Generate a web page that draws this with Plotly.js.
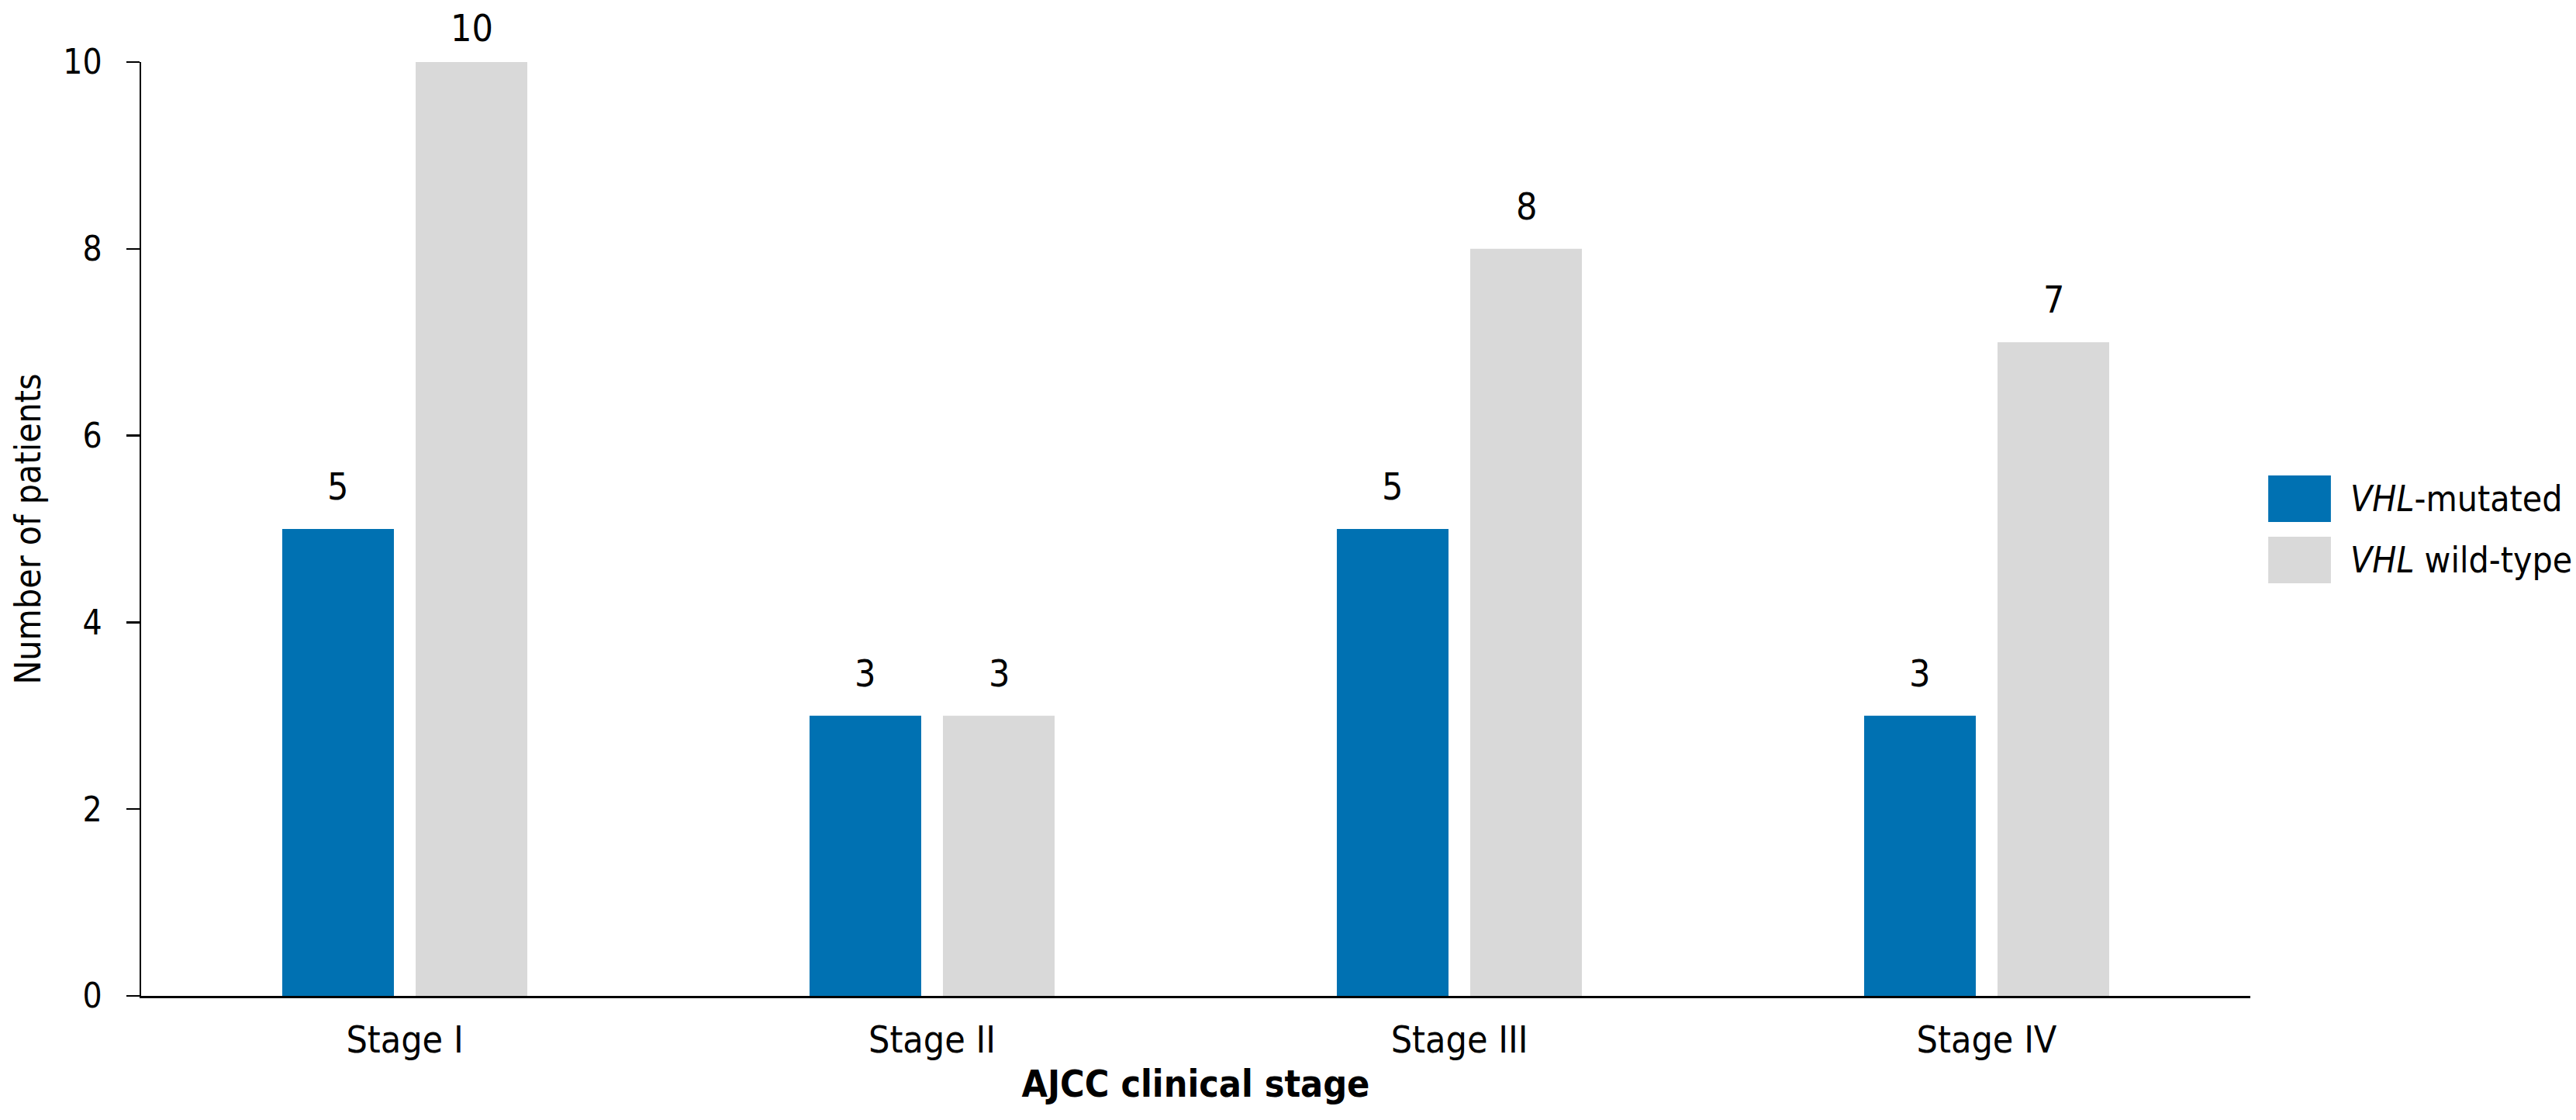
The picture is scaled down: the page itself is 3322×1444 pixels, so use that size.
<!DOCTYPE html>
<html>
<head>
<meta charset="utf-8">
<script src="https://cdn.plot.ly/plotly-3.0.1.min.js"></script>
<style>
  html, body { margin: 0; padding: 0; background: #ffffff; }
  #chart { width: 3322px; height: 1444px; }
</style>
</head>
<body>
<div id="chart"></div>
<script>
// ─── Data ─────────────────────────────────────────────────────────────────────
const stages      = ['Stage I', 'Stage II', 'Stage III', 'Stage IV'];
const mutated     = [5, 3, 5, 3];
const wildType    = [10, 3, 8, 7];
const seriesNames = ['<i>VHL</i>-mutated', '<i>VHL</i> wild-type'];
const yTicks      = [0, 2, 4, 6, 8, 10];

// ─── Style ────────────────────────────────────────────────────────────────────
const FONT    = '"DejaVu Sans Condensed", "DejaVu Sans", sans-serif';
const BLUE    = '#0071b2';
const GREY    = '#d9d9d9';
const colors  = [BLUE, GREY];
const BARGAP  = 0.494;
const series  = [mutated, wildType];
const yMax    = yTicks[yTicks.length - 1];

const traces = series.map((vals, i) => ({
  type: 'bar',
  x: stages,
  y: vals,
  name: seriesNames[i],
  marker: { color: colors[i] },
  showlegend: false,
  hoverinfo: 'x+y',
}));

// Value labels sit a little higher above the bars than Plotly's outside text,
// so they are annotations placed at each bar's own slot within the group.
// A bar reaching the top of the axis gets a smaller lift so its label stays
// inside the page, as in the original.
const slot = (1 - BARGAP) / series.length;
const valueLabels = [];
series.forEach((vals, i) => {
  vals.forEach((v, k) => {
    valueLabels.push({
      xref: 'x', yref: 'y',
      x: k + (i - (series.length - 1) / 2) * slot,
      y: v,
      text: String(v),
      showarrow: false,
      xanchor: 'center', yanchor: 'bottom',
      yshift: v >= yMax ? 14 : 25,
      font: { family: FONT, size: 48, color: '#000' },
    });
  });
});

// Custom legend: large swatches like the original, drawn in paper coords
const legendTop = [0.5573, 0.4917];
const swatchH   = 0.0498;
const shapes = colors.map((c, i) => ({
  type: 'rect', xref: 'paper', yref: 'paper',
  x0: 1.0085, x1: 1.0382,
  y0: legendTop[i] - swatchH, y1: legendTop[i],
  fillcolor: c, line: { width: 0 },
}));
const legendLabels = seriesNames.map((name, i) => ({
  xref: 'paper', yref: 'paper',
  x: 1.0467, y: legendTop[i] - swatchH / 2,
  xanchor: 'left', yanchor: 'middle',
  text: name, showarrow: false,
  font: { family: FONT, size: 46, color: '#000' },
}));

const layout = {
  width: 3322,
  height: 1444,
  paper_bgcolor: '#ffffff',
  plot_bgcolor: '#ffffff',
  margin: { l: 182, r: 420, t: 80, b: 160 },
  font: { family: FONT, color: '#000' },
  barmode: 'group',
  bargap: BARGAP,
  bargroupgap: 0.163,
  xaxis: {
    type: 'category',
    range: [-0.5, 3.5],
    showline: true, linecolor: '#000', linewidth: 3,
    ticks: '',
    showgrid: false, zeroline: false,
    tickfont: { family: FONT, size: 48, color: '#000' },
    ticklabelstandoff: 12,
    title: {
      text: '<b>AJCC clinical stage</b>',
      font: { family: FONT, size: 48, color: '#000' },
      standoff: 14,
    },
  },
  yaxis: {
    range: [0, yMax],
    tickvals: yTicks,
    showline: true, linecolor: '#000', linewidth: 2.5,
    ticks: 'outside', ticklen: 17, tickwidth: 2.5, tickcolor: '#000',
    showgrid: false, zeroline: false,
    tickfont: { family: FONT, size: 44, color: '#000' },
    ticklabelstandoff: 22,
    title: {
      text: 'Number of patients',
      font: { family: FONT, size: 46, color: '#000' },
      standoff: 14,
    },
  },
  shapes: shapes,
  annotations: valueLabels.concat(legendLabels),
  showlegend: false,
};

Plotly.newPlot('chart', traces, layout, { displayModeBar: false, staticPlot: true });
</script>
</body>
</html>
